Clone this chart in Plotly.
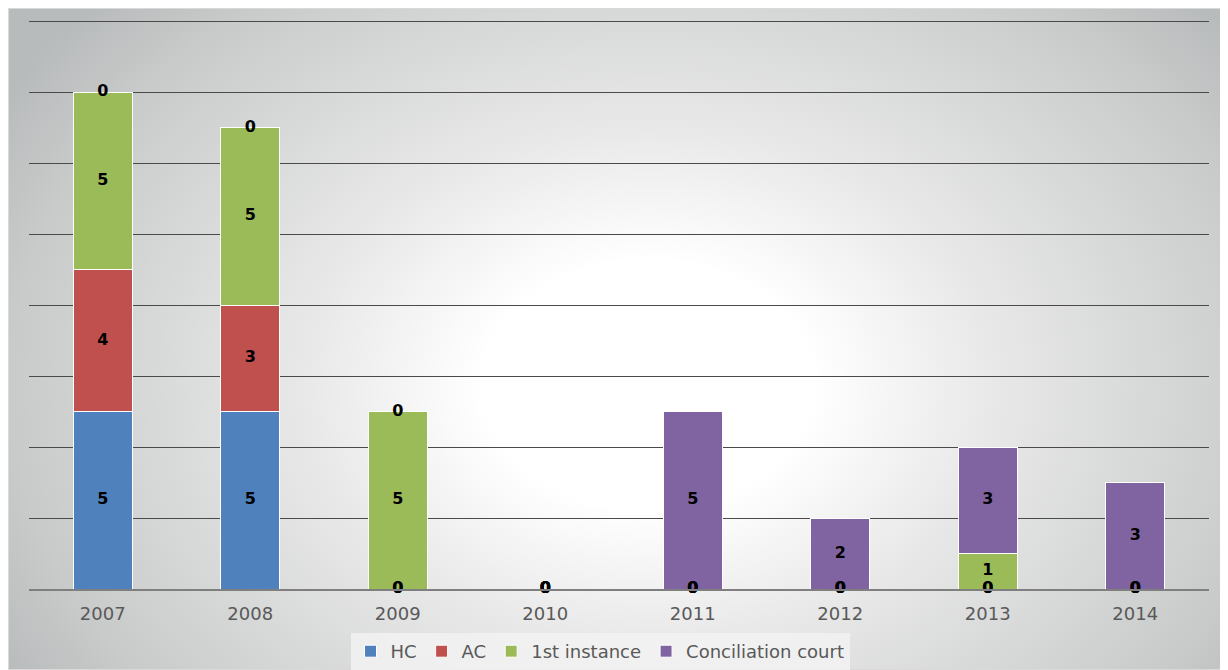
import base64
import plotly.graph_objects as go

years = ["2007", "2008", "2009", "2010", "2011", "2012", "2013", "2014"]
hc = [5, 5, 0, 0, 0, 0, 0, 0]
ac = [4, 3, 0, 0, 0, 0, 0, 0]
first_instance = [5, 5, 5, 0, 0, 0, 1, 0]
conciliation = [0, 0, 0, 0, 5, 2, 3, 3]

series = [
    ("HC", hc, "#4F81BD"),
    ("AC", ac, "#C0504D"),
    ("1st instance", first_instance, "#9BBB59"),
    ("Conciliation court", conciliation, "#8064A2"),
]

fig = go.Figure()
base = [0] * len(years)
label_traces = []
for name, vals, color in series:
    fig.add_trace(go.Bar(
        x=years, y=vals, name=name, marker_color=color,
        marker_line=dict(color="white", width=1),
    ))
    mids = [b + v / 2 for b, v in zip(base, vals)]
    label_traces.append(go.Scatter(
        x=years, y=mids, mode="text", text=[str(v) for v in vals],
        textposition="middle center",
        textfont=dict(family="DejaVu Sans", size=16, color="black", weight="bold"),
        showlegend=False, hoverinfo="skip", cliponaxis=False,
    ))
    base = [b + v for b, v in zip(base, vals)]
for t in label_traces:
    fig.add_trace(t)

W, H = 1220, 662
svg = f"""<svg xmlns='http://www.w3.org/2000/svg' width='{W}' height='{H}' viewBox='0 0 {W} {H}' preserveAspectRatio='none'>
<defs><radialGradient id='g' gradientUnits='userSpaceOnUse' cx='640' cy='377' r='750'
 gradientTransform='translate(640,377) scale(1,0.75) translate(-640,-377)'>
<stop offset='0' stop-color='#ffffff'/>
<stop offset='0.22' stop-color='#ffffff'/>
<stop offset='0.45' stop-color='#e9e9e9'/>
<stop offset='0.68' stop-color='#d6d7d7'/>
<stop offset='0.85' stop-color='#c9caca'/>
<stop offset='1' stop-color='#b8bbbc'/>
</radialGradient></defs>
<rect width='{W}' height='{H}' fill='url(#g)'/>
<rect x='0.5' y='0.5' width='{W - 1}' height='{H - 1}' fill='none' stroke='#d9d9d9' stroke-width='1'/>
</svg>"""
uri = "data:image/svg+xml;base64," + base64.b64encode(svg.encode()).decode()

L, R, T, B = 21, 19, 12, 81
pw, ph = W - L - R, H - T - B

fig.update_layout(
    width=W, height=H,
    barmode="stack", bargap=0.6,
    margin=dict(l=L, r=R, t=T, b=B, autoexpand=False),
    paper_bgcolor="white", plot_bgcolor="rgba(0,0,0,0)",
    images=[dict(
        source=uri, xref="paper", yref="paper",
        x=-L / pw, y=1 + T / ph,
        sizex=W / pw, sizey=H / ph,
        sizing="stretch", layer="below", xanchor="left", yanchor="top",
    )],
    xaxis=dict(
        showline=True, linecolor="#7f7f7f", linewidth=2,
        ticks="", tickfont=dict(family="DejaVu Sans", size=18, color="#595959"),
        ticklabelstandoff=7, showgrid=False, automargin=False,
    ),
    yaxis=dict(
        range=[0, 16.03], tick0=0, dtick=2, showticklabels=False, ticks="",
        showgrid=True, gridcolor="#4a4a4a", gridwidth=1, zeroline=False,
        automargin=False,
    ),
    legend=dict(
        orientation="h", x=(592 - L) / pw, xanchor="center",
        y=-(625 - (T + ph)) / ph, yanchor="top",
        bgcolor="rgba(242,242,242,0.85)",
        font=dict(family="DejaVu Sans", size=18, color="#595959"),
        traceorder="normal",
    ),
    showlegend=True,
)

fig.write_html("out.html")
